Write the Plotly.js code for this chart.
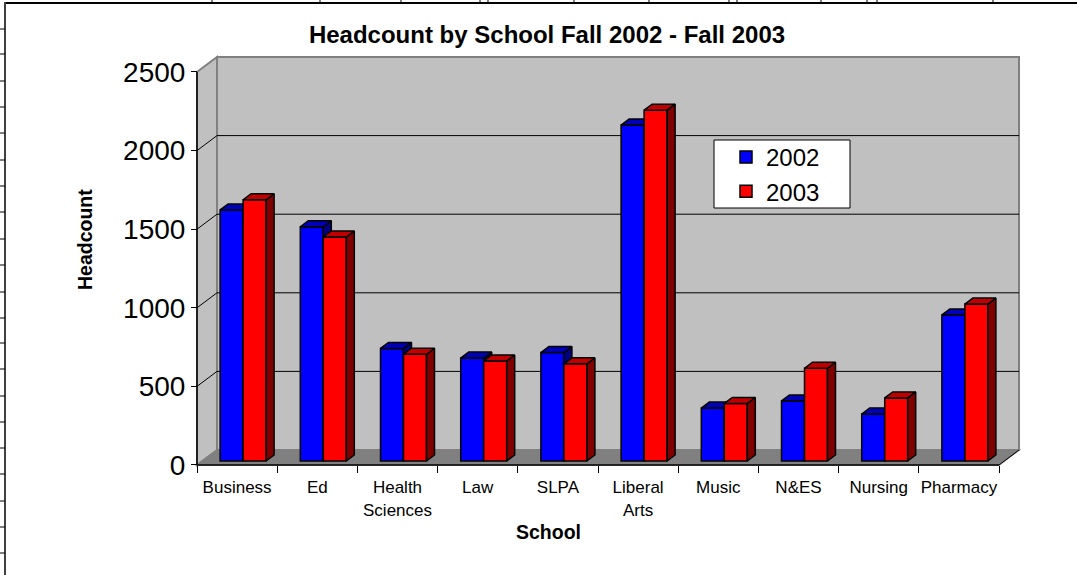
<!DOCTYPE html>
<html>
<head>
<meta charset="utf-8">
<script src="https://cdn.plot.ly/plotly-3.0.1.min.js"></script>
<style>html,body{margin:0;padding:0;background:#fff;}#chart{width:1077px;height:575px;}</style>
</head>
<body>
<div id="chart"></div>
<script>
// ---- data ----
const categories = ['Business', 'Ed', 'Health<br>Sciences', 'Law', 'SLPA', 'Liberal<br>Arts', 'Music', 'N&amp;ES', 'Nursing', 'Pharmacy'];
const seriesNames = ['2002', '2003'];
const values2002 = [1597, 1490, 716, 655, 690, 2137, 337, 382, 299, 929];
const values2003 = [1662, 1425, 679, 636, 618, 2232, 366, 590, 401, 998];
const yTickValues = [0, 500, 1000, 1500, 2000, 2500];

// ---- geometry (pixel scale of the front plane) ----
const W = 1077, H = 575;
const PX_X0 = 197, PX_PER_CAT = 80.2;      // x = -0.5 at 197px
const PX_Y0 = 465, PX_PER_VAL = 393 / 2500; // y = 0 at 465px
const xRange = [-0.6, 9.95], yRange = [-40, 2660];
const xpx = v => PX_X0 + (v + 0.5) * PX_PER_CAT;
const ypx = v => PX_Y0 - v * PX_PER_VAL;
const xDomain = [xpx(xRange[0]) / W, xpx(xRange[1]) / W];
const yDomain = [(H - ypx(yRange[0])) / H, (H - ypx(yRange[1])) / H];
const dX = p => p / PX_PER_CAT, dY = p => p / PX_PER_VAL;

const DEPTH_X = dX(20), DEPTH_Y = dY(15);   // wall depth
const OFF_X = dX(6), OFF_Y = dY(4);         // bar front plane offset
const BD_X = dX(8), BD_Y = dY(6);           // bar depth
const BW = dX(23);                          // bar width
const n = categories.length;
const idx = categories.map((c, i) => i);

const blueFront = '#0000FF', blueTop = '#0000B8', blueSide = '#000080';
const redFront = '#FF0000', redTop = '#C00000', redSide = '#800000';

function faces(leftXs, vals) {
  const top = {x: [], y: []}, side = {x: [], y: []};
  leftXs.forEach((xl, i) => {
    const b = OFF_Y, t = OFF_Y + vals[i], xr = xl + BW;
    top.x.push(xl, xr, xr + BD_X, xl + BD_X, xl, null);
    top.y.push(t, t, t + BD_Y, t + BD_Y, t, null);
    side.x.push(xr, xr, xr + BD_X, xr + BD_X, xr, null);
    side.y.push(b, t, t + BD_Y, b + BD_Y, b, null);
  });
  return {top, side};
}

const blueLeft = idx.map(i => i + OFF_X - BW);
const redLeft = idx.map(i => i + OFF_X);
const fb = faces(blueLeft, values2002);
const fr = faces(redLeft, values2003);

function polyTrace(p, color, xa, ya) {
  return {type: 'scatter', mode: 'lines', x: p.x, y: p.y, fill: 'toself', fillcolor: color,
    line: {color: '#000', width: 1.5}, xaxis: xa, yaxis: ya, showlegend: false, hoverinfo: 'skip'};
}

const traces = [
  {type: 'bar', name: seriesNames[0], x: blueLeft.map(x => x + BW / 2), y: values2002, base: OFF_Y, width: BW,
   marker: {color: blueFront, line: {color: '#000', width: 1.5}}, xaxis: 'x', yaxis: 'y'},
  polyTrace(fb.side, blueSide, 'x', 'y'),
  polyTrace(fb.top, blueTop, 'x', 'y'),
  {type: 'bar', name: seriesNames[1], x: redLeft.map(x => x + BW / 2), y: values2003, base: OFF_Y, width: BW,
   marker: {color: redFront, line: {color: '#000', width: 1.5}}, xaxis: 'x2', yaxis: 'y2'},
  polyTrace(fr.side, redSide, 'x2', 'y2'),
  polyTrace(fr.top, redTop, 'x2', 'y2')
];

// ---- walls, floor, gridlines ----
const bx0 = -0.5 + DEPTH_X, bx1 = n - 0.5 + DEPTH_X;
const shapes = [
  {type: 'rect', xref: 'x', yref: 'y', x0: bx0, x1: bx1, y0: DEPTH_Y, y1: 2500 + DEPTH_Y,
   fillcolor: '#C0C0C0', line: {color: '#808080', width: 2}, layer: 'below'},
  {type: 'path', xref: 'x', yref: 'y', path: `M ${-0.5},0 L ${bx0},${DEPTH_Y} L ${bx0},${2500 + DEPTH_Y} L ${-0.5},2500 Z`,
   fillcolor: '#C0C0C0', line: {color: '#808080', width: 2}, layer: 'below'}
];
yTickValues.filter(v => v > 0 && v < 2500).forEach(v => {
  shapes.push({type: 'line', xref: 'x', yref: 'y', x0: bx0, x1: bx1, y0: v + DEPTH_Y, y1: v + DEPTH_Y,
    line: {color: '#000', width: 1}, layer: 'below'});
  shapes.push({type: 'line', xref: 'x', yref: 'y', x0: -0.5, x1: bx0, y0: v, y1: v + DEPTH_Y,
    line: {color: '#000', width: 1}, layer: 'below'});
});
shapes.push({type: 'path', xref: 'x', yref: 'y', path: `M ${-0.5},0 L ${n - 0.5},0 L ${bx1},${DEPTH_Y} L ${bx0},${DEPTH_Y} Z`,
  fillcolor: '#808080', line: {color: '#808080', width: 1.5}, layer: 'below'});
shapes.push({type: 'line', xref: 'x', yref: 'y', x0: -0.5, x1: n - 0.5, y0: 0, y1: 0, line: {color: '#000', width: 1.5}, layer: 'below'});
shapes.push({type: 'line', xref: 'x', yref: 'y', x0: n - 0.5, x1: bx1, y0: 0, y1: DEPTH_Y, line: {color: '#000', width: 1}, layer: 'below'});
shapes.push({type: 'line', xref: 'x', yref: 'y', x0: -0.5, x1: -0.5, y0: 0, y1: 2500, line: {color: '#000', width: 1.5}, layer: 'below'});

// ---- sheet frame (paper) ----
const px2 = (x) => x / W, py2 = (y) => (H - y) / H;
shapes.push({type: 'line', xref: 'paper', yref: 'paper', x0: px2(5), x1: 1, y0: py2(3), y1: py2(3), line: {color: '#000', width: 2}});
shapes.push({type: 'line', xref: 'paper', yref: 'paper', x0: px2(5), x1: px2(5), y0: py2(2), y1: 0, line: {color: '#404040', width: 2}});
[29, 54, 81, 107, 133, 160, 186, 212, 239, 265, 292, 318, 343, 369, 396, 422, 448, 474, 501, 527, 553].forEach(y => {
  shapes.push({type: 'line', xref: 'paper', yref: 'paper', x0: 0, x1: px2(5), y0: py2(y), y1: py2(y), line: {color: '#000', width: 1}});
});
[212, 320, 401, 480, 488, 574, 649, 729, 737, 821, 867, 877, 993].forEach(x => {
  shapes.push({type: 'line', xref: 'paper', yref: 'paper', x0: px2(x), x1: px2(x), y0: 1, y1: py2(3), line: {color: '#000', width: 1}});
});
// legend box
shapes.push({type: 'rect', xref: 'paper', yref: 'paper', x0: px2(714), x1: px2(850), y0: py2(208), y1: py2(140),
  fillcolor: '#fff', line: {color: '#000', width: 1}});

const FONT = 'Arial, "Liberation Sans", sans-serif';
const layout = {
  width: W, height: H,
  margin: {l: 0, r: 0, t: 0, b: 0},
  paper_bgcolor: '#fff', plot_bgcolor: 'rgba(0,0,0,0)',
  font: {family: FONT, color: '#000'},
  barmode: 'overlay',
  title: {text: '<b>Headcount by School Fall 2002 - Fall 2003</b>', x: 547 / W, xanchor: 'center', xref: 'paper',
          y: py2(35), yanchor: 'middle', yref: 'paper', font: {size: 24, family: FONT, color: '#000'}},
  xaxis: {domain: xDomain, range: xRange, anchor: 'free', position: py2(PX_Y0) , tickmode: 'array',
          tickvals: idx, ticktext: categories, ticks: 'outside', ticklen: 7, tickcolor: 'rgba(0,0,0,0)',
          tickfont: {size: 17, family: FONT}, showgrid: false, zeroline: false, showline: false, fixedrange: true},
  xaxis2: {overlaying: 'x', range: xRange, anchor: 'free', position: py2(PX_Y0), tickmode: 'array',
          tickvals: [...idx.map(i => i - 0.5), n - 0.5], showticklabels: false, ticks: 'outside', ticklen: 7,
          tickcolor: '#000', tickwidth: 1, showgrid: false, zeroline: false, showline: false},
  yaxis: {domain: yDomain, range: yRange, anchor: 'free', position: PX_X0 / W, tickmode: 'array',
          tickvals: yTickValues, ticks: 'outside', ticklen: 6, tickcolor: '#000', tickwidth: 1,
          tickfont: {size: 28, family: FONT}, showgrid: false, zeroline: false, showline: false},
  yaxis2: {overlaying: 'y', range: yRange, visible: false},
  showlegend: true,
  legend: {x: 726 / W, xanchor: 'left', y: py2(135), yanchor: 'top', bgcolor: 'rgba(0,0,0,0)', borderwidth: 0,
           font: {size: 24, family: FONT}, traceorder: 'normal'},
  shapes: shapes,
  annotations: [
    {text: '<b>Headcount</b>', textangle: -90, x: 85 / W, y: py2(240), xref: 'paper', yref: 'paper',
     xanchor: 'center', yanchor: 'middle', showarrow: false, font: {size: 19.5, family: FONT}},
    {text: '<b>School</b>', x: 548 / W, y: py2(532), xref: 'paper', yref: 'paper',
     xanchor: 'center', yanchor: 'middle', showarrow: false, font: {size: 19.5, family: FONT}}
  ]
};

Plotly.newPlot('chart', traces, layout, {displayModeBar: false, staticPlot: true});
</script>
</body>
</html>
